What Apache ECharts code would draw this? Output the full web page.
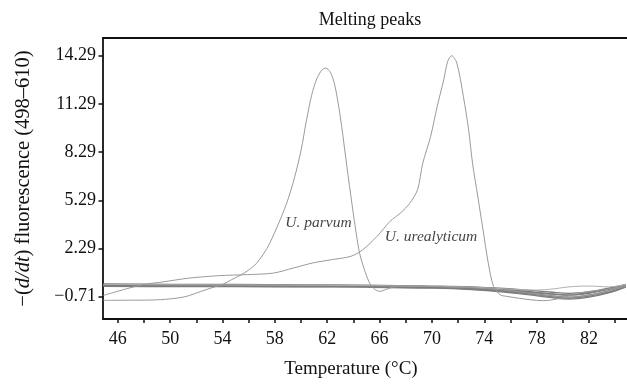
<!DOCTYPE html>
<html>
<head>
<meta charset="utf-8">
<script src="https://cdn.jsdelivr.net/npm/echarts@6/dist/echarts.min.js"></script>
<style>
  html, body { margin: 0; padding: 0; background: #fff; }
  #chart { width: 627px; height: 385px; }
</style>
</head>
<body>
<div id="chart"></div>
<script>
// axis ticks / labels
const xTickValues = [46, 48, 50, 52, 54, 56, 58, 60, 62, 64, 66, 68, 70, 72, 74, 76, 78, 80, 82, 84];
const xLabelValues = [46, 50, 54, 58, 62, 66, 70, 74, 78, 82];
const yLabelValues = [-0.71, 2.29, 5.29, 8.29, 11.29, 14.29];

// U. parvum melt curve (temperature, -dF/dT)
const parvumT = [44.9, 46.9, 48.5, 50.0, 51.2, 52.3, 53.2, 54.0, 54.7, 55.4, 56.0, 56.6, 57.4, 58.1, 58.9, 59.5, 60.0, 60.4, 60.8, 61.2, 61.6, 61.9,
  62.2, 62.5, 62.8, 63.1, 63.5, 63.9, 64.2, 64.5, 65.0, 65.4, 66.0, 66.8, 67.6, 70.0, 73.0, 75.5, 77.5, 79.0, 80.5, 82.0, 83.5, 84.8];
const parvumV = [-0.94, -0.93, -0.92, -0.85, -0.7, -0.4, -0.15, 0.05, 0.35, 0.64, 0.95, 1.37, 2.3, 3.5, 5.1, 6.7, 8.4, 10.2, 11.8, 12.85, 13.4, 13.52,
  13.3, 12.7, 11.5, 9.9, 7.4, 5.0, 3.3, 1.9, 0.6, -0.07, -0.38, -0.17, -0.05, -0.08, -0.15, -0.3, -0.5, -0.65, -0.75, -0.62, -0.35, -0.05];

// U. urealyticum melt curve
const urealT = [44.9, 46.9, 48.2, 49.2, 51.5, 53.8, 55.9, 57.9, 59.4, 60.9, 62.4, 63.8, 64.7, 65.8, 66.8, 67.6, 68.3, 68.9, 69.3, 69.9,
  70.4, 70.9, 71.2, 71.5, 71.9, 72.4, 72.8, 73.1, 73.5, 73.9, 74.3, 74.7, 75.2, 75.7, 77.5, 78.5, 79.8, 81.1, 82.5, 83.7, 84.8];
const urealV = [-0.63, -0.17, 0.08, 0.18, 0.45, 0.6, 0.66, 0.76, 1.07, 1.39, 1.6, 1.8, 2.2, 3.04, 3.98, 4.5, 5.1, 5.95, 7.6, 9.27,
  11.13, 12.79, 13.93, 14.29, 13.83, 11.75, 9.68, 7.6, 5.53, 3.46, 1.39, -0.06, -0.59, -0.69, -0.9, -0.96, -0.81, -0.5, -0.35, -0.2, 0.0];

// negative samples, flat band near zero
const bandT = [44.9, 50, 55, 60, 65, 70, 73, 75.5, 77.5, 79, 80.5, 82, 83.5, 84.8];
const neg1 = [0.08, 0.06, 0.05, 0.03, 0.0, -0.05, -0.1, -0.2, -0.32, -0.42, -0.5, -0.4, -0.18, 0.06];
const neg2 = [0.04, 0.02, 0.01, -0.01, -0.03, -0.08, -0.14, -0.26, -0.4, -0.52, -0.62, -0.5, -0.25, 0.02];
const neg3 = [0.0, -0.02, -0.03, -0.05, -0.07, -0.12, -0.2, -0.34, -0.5, -0.64, -0.74, -0.6, -0.34, -0.04];
const neg4 = [-0.04, -0.05, -0.06, -0.08, -0.1, -0.15, -0.24, -0.38, -0.55, -0.7, -0.8, -0.68, -0.42, -0.08];
const neg5 = [-0.07, -0.08, -0.09, -0.1, -0.12, -0.18, -0.27, -0.42, -0.6, -0.76, -0.86, -0.74, -0.48, -0.12];
const neg6 = [0.02, 0.01, 0.0, -0.02, -0.04, -0.09, -0.15, -0.28, -0.44, -0.55, -0.6, -0.45, -0.22, 0.03];
const neg7 = [0.05, 0.03, 0.02, 0.0, -0.02, -0.07, -0.12, -0.22, -0.3, -0.25, -0.1, -0.05, -0.1, 0.05];

const labels = [
  { name: "U. parvum", value: [58.8, 3.9] },
  { name: "U. urealyticum", value: [66.4, 3.0] },
];

const serif = "'Liberation Serif', 'DejaVu Serif', serif";
const zip = (xs, ys) => xs.map((x, i) => [x, ys[i]]);

// minor ticks: 8 steps between each labelled value
const yMinorValues = [];
for (let i = 0; i < yLabelValues.length - 1; i++) {
  for (let k = 1; k < 8; k++) yMinorValues.push(yLabelValues[i] + (k * 3) / 8);
}

const xMin = 44.87, xMax = 84.9, yMin = -2.1, yMax = 15.39;

const chart = echarts.init(document.getElementById("chart"), null, { renderer: "canvas" });

const bandSeries = [neg1, neg2, neg3, neg4, neg5, neg6, neg7].map((vals, i) => ({
  type: "line",
  data: zip(bandT, vals),
  smooth: 0.4,
  showSymbol: false,
  silent: true,
  lineStyle: { color: i === 6 ? "#b0b0b0" : "#7d7d7d", width: i === 6 ? 1 : 1.3 },
  z: 2,
}));

chart.setOption({
  animation: false,
  backgroundColor: "#fff",
  title: {
    text: "Melting peaks",
    left: 365,
    textAlign: "center",
    top: 6,
    textStyle: { fontFamily: serif, fontSize: 18, fontWeight: "normal", color: "#111" },
  },
  grid: { left: 103, right: 0, top: 38, bottom: 66, containLabel: false, outerBoundsMode: "none" },
  xAxis: [
    {
      type: "value",
      min: xMin,
      max: xMax,
      position: "bottom",
      name: "Temperature (°C)",
      nameLocation: "middle",
      nameGap: 41,
      nameTextStyle: { fontFamily: serif, fontSize: 19, color: "#111", padding: [0, 28, 0, 0] },
      axisLine: { show: true, onZero: false, lineStyle: { color: "#111", width: 1.8 } },
      axisTick: { show: true, inside: false, length: 4, customValues: xTickValues, lineStyle: { color: "#111", width: 1.5 } },
      axisLabel: { customValues: xLabelValues, fontFamily: serif, fontSize: 18, color: "#111", margin: 11 },
      splitLine: { show: false },
    },
    {
      type: "value",
      min: xMin,
      max: xMax,
      position: "top",
      axisLine: { show: true, onZero: false, lineStyle: { color: "#111", width: 1.8 } },
      axisTick: { show: false },
      axisLabel: { show: false },
      splitLine: { show: false },
    },
  ],
  yAxis: [
    {
      type: "value",
      min: yMin,
      max: yMax,
      name: "{n|−(}{i|d/dt}{n|) fluorescence (498–610)}",
      nameLocation: "middle",
      nameRotate: 90,
      nameGap: 69,
      nameTextStyle: {
        rich: {
          n: { fontFamily: serif, fontSize: 20.5, color: "#111" },
          i: { fontFamily: serif, fontSize: 20.5, fontStyle: "italic", color: "#111" },
        },
      },
      axisLine: { show: true, onZero: false, lineStyle: { color: "#111", width: 1.8 } },
      axisTick: { show: true, length: 4.5, customValues: yLabelValues, lineStyle: { color: "#111", width: 1.5 } },
      axisLabel: {
        customValues: yLabelValues,
        fontFamily: serif,
        fontSize: 18,
        color: "#111",
        margin: 7,
        formatter: (v) => v.toFixed(2).replace("-", "−"),
      },
      splitLine: { show: false },
    },
    {
      type: "value",
      min: yMin,
      max: yMax,
      axisLine: { show: false },
      axisTick: { show: true, length: 2.5, customValues: yMinorValues, lineStyle: { color: "#111", width: 1.3 } },
      axisLabel: { show: false },
      splitLine: { show: false },
    },
  ],
  series: [
    ...bandSeries,
    {
      type: "line",
      name: "U. parvum",
      data: zip(parvumT, parvumV),
      smooth: 0.3,
      showSymbol: false,
      lineStyle: { color: "#9a9a9a", width: 1 },
      z: 3,
    },
    {
      type: "line",
      name: "U. urealyticum",
      data: zip(urealT, urealV),
      smooth: 0.3,
      showSymbol: false,
      lineStyle: { color: "#9a9a9a", width: 1 },
      z: 3,
    },
    {
      type: "scatter",
      data: labels,
      symbolSize: 0,
      silent: true,
      label: {
        show: true,
        position: "right",
        distance: 0,
        formatter: "{b}",
        fontFamily: serif,
        fontStyle: "italic",
        fontSize: 15.5,
        color: "#111",
      },
      z: 4,
    },
  ],
});
</script>
</body>
</html>
